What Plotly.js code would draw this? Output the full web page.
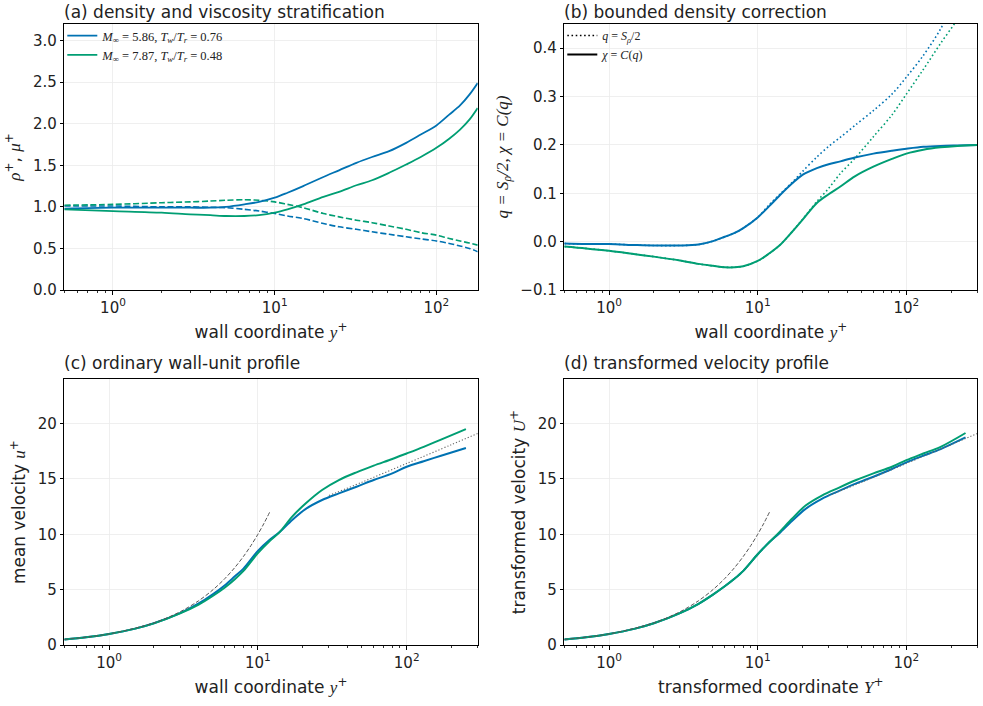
<!DOCTYPE html>
<html>
<head>
<meta charset="utf-8">
<script src="https://cdn.plot.ly/plotly-3.0.1.min.js"></script>
<style>html,body{margin:0;padding:0;background:#fff;}#chart{width:983px;height:706px;}</style>
</head>
<body>
<div id="chart"></div>
<script>
// ---------- data ----------
// (a) density / viscosity stratification
const yA = [0.5, 1, 2, 3, 4, 5, 6.5, 8, 10, 12, 15, 20, 25, 32, 40, 51, 65, 80, 100, 120, 140, 160, 180];
const rhoBlue = [0.98, 0.99, 0.99, 0.99, 0.99, 1.0, 1.03, 1.06, 1.11, 1.17, 1.25, 1.36, 1.44, 1.53, 1.60, 1.67, 1.77, 1.87, 1.98, 2.11, 2.22, 2.35, 2.49];
const rhoGreen = [0.97, 0.95, 0.93, 0.91, 0.90, 0.89, 0.89, 0.90, 0.93, 0.97, 1.03, 1.12, 1.18, 1.26, 1.32, 1.41, 1.51, 1.60, 1.71, 1.82, 1.93, 2.05, 2.19];
const muBlue = [1.01, 1.01, 1.0, 1.0, 0.995, 0.99, 0.97, 0.95, 0.92, 0.89, 0.86, 0.80, 0.76, 0.73, 0.70, 0.67, 0.64, 0.615, 0.59, 0.56, 0.53, 0.50, 0.46];
const muGreen = [1.02, 1.03, 1.05, 1.06, 1.07, 1.08, 1.085, 1.08, 1.06, 1.03, 0.99, 0.92, 0.88, 0.84, 0.81, 0.77, 0.73, 0.69, 0.66, 0.62, 0.59, 0.565, 0.54];

// (b) bounded density correction
const yB = [0.5, 0.7, 1, 1.5, 2, 3, 4, 5, 6, 7, 8, 10, 12, 14, 17, 20, 25, 30, 36, 45, 60, 80, 100, 130, 170, 220, 300];
const chiBlue = [-0.004, -0.005, -0.005, -0.007, -0.008, -0.008, -0.006, 0.001, 0.01, 0.018, 0.028, 0.05, 0.074, 0.095, 0.12, 0.138, 0.152, 0.16, 0.166, 0.174, 0.182, 0.188, 0.192, 0.196, 0.198, 0.199, 0.2];
const qBlue = [-0.004, -0.005, -0.005, -0.007, -0.008, -0.008, -0.006, 0.001, 0.01, 0.018, 0.028, 0.05, 0.077, 0.097, 0.122, 0.145, 0.175, 0.197, 0.216, 0.24, 0.271, 0.305, 0.34, 0.385, 0.44, 0.51, 0.6];
const chiGreen = [-0.010, -0.014, -0.019, -0.026, -0.031, -0.039, -0.046, -0.050, -0.053, -0.053, -0.051, -0.040, -0.024, -0.008, 0.02, 0.045, 0.08, 0.098, 0.114, 0.135, 0.155, 0.171, 0.182, 0.19, 0.195, 0.198, 0.2];
const qGreen = [-0.010, -0.014, -0.019, -0.026, -0.031, -0.039, -0.046, -0.050, -0.053, -0.053, -0.051, -0.040, -0.024, -0.008, 0.02, 0.046, 0.083, 0.11, 0.141, 0.172, 0.217, 0.262, 0.305, 0.356, 0.41, 0.46, 0.54];

// (c) ordinary wall-unit profile, (d) transformed profile
const yC = [0.5, 0.7, 1, 1.5, 2, 3, 4, 5, 6, 7, 8, 10, 12, 14, 17, 21, 27, 35, 46, 60, 80, 100, 130, 170, 250];
const uBlue = [0.5, 0.7, 1.0, 1.48, 1.96, 2.88, 3.75, 4.6, 5.4, 6.2, 6.9, 8.5, 9.5, 10.2, 11.3, 12.3, 13.1, 13.7, 14.3, 14.9, 15.5, 16.1, 16.6, 17.1, 17.8];
const uGreen = [0.5, 0.7, 1.0, 1.48, 1.95, 2.85, 3.65, 4.45, 5.2, 5.95, 6.7, 8.3, 9.4, 10.2, 11.6, 12.8, 14.0, 14.9, 15.6, 16.2, 16.8, 17.3, 17.9, 18.55, 19.5];
const UBlue = [0.5, 0.7, 1.0, 1.48, 1.96, 2.88, 3.72, 4.55, 5.3, 6.0, 6.7, 8.2, 9.3, 10.1, 11.2, 12.3, 13.2, 13.9, 14.6, 15.2, 15.9, 16.5, 17.1, 17.7, 18.75];
const UGreen = [0.5, 0.7, 1.0, 1.48, 1.96, 2.88, 3.72, 4.55, 5.3, 6.0, 6.7, 8.2, 9.3, 10.2, 11.4, 12.6, 13.5, 14.2, 14.9, 15.5, 16.1, 16.7, 17.3, 17.9, 19.15];
// reference laws
const viscX = [0.5, 1, 2, 3, 4, 5, 6, 7, 8, 9, 10, 11, 12];
const viscU = [0.5, 1, 2, 3, 4, 5, 6, 7, 8, 9, 10, 11, 12];
const logX = [30, 50, 100, 200, 300];
const logU = [13.5, 14.7, 16.4, 18.1, 19.1];

const legendA = ['<i>M</i><sub>∞</sub> = 5.86, <i>T<sub>w</sub></i>/<i>T<sub>r</sub></i> = 0.76',
                 '<i>M</i><sub>∞</sub> = 7.87, <i>T<sub>w</sub></i>/<i>T<sub>r</sub></i> = 0.48'];
const legendB = ['<i>q</i> = <i>S<sub>ρ</sub></i>/2', '<i>χ</i> = <i>C</i>(<i>q</i>)'];
const panelTitles = ['(a) density and viscosity stratification', '(b) bounded density correction',
                     '(c) ordinary wall-unit profile', '(d) transformed velocity profile'];
const xTicks = [1, 10, 100];
const xTickText = ['10<sup>0</sup>', '10<sup>1</sup>', '10<sup>2</sup>'];

// ---------- styling ----------
const BLUE = '#0072B2', GREEN = '#009E73';
const SANS = 'DejaVu Sans, sans-serif';
const SERIF = 'Liberation Serif, DejaVu Serif, serif';
const W = 983, H = 706;
const xL = [64.3 / W, 477.7 / W], xR = [564.3 / W, 977.3 / W];
const yT = [1 - 290 / H, 1 - 24 / H], yBt = [1 - 645 / H, 1 - 379.3 / H];
const minorVals = [];
for (let d = 0.1; d < 1000; d *= 10) for (let k = 2; k <= 9; k++) minorVals.push(k * d);

function ln(xa, ya, x, y, color, width, dash, name, show, legend) {
  return {type: 'scatter', mode: 'lines', x: x, y: y, xaxis: xa, yaxis: ya,
    line: {color: color, width: width, dash: dash || 'solid', shape: 'spline', smoothing: 0.9}, name: name || '',
    showlegend: !!show, legend: legend || 'legend', hoverinfo: 'skip'};
}
const traces = [
  ln('x', 'y', yA, muBlue, BLUE, 1.6, '6px,2.6px'),
  ln('x', 'y', yA, muGreen, GREEN, 1.6, '6px,2.6px'),
  ln('x', 'y', yA, rhoBlue, BLUE, 1.8, 'solid', legendA[0], true),
  ln('x', 'y', yA, rhoGreen, GREEN, 1.8, 'solid', legendA[1], true),

  ln('x2', 'y2', yB, qBlue, BLUE, 1.6, '1.6px,2.6px'),
  ln('x2', 'y2', yB, qGreen, GREEN, 1.6, '1.6px,2.6px'),
  ln('x2', 'y2', yB, chiBlue, BLUE, 2, 'solid'),
  ln('x2', 'y2', yB, chiGreen, GREEN, 2, 'solid'),
  ln('x2', 'y2', [null], [null], 'black', 1.4, '1.6px,2.6px', legendB[0], true, 'legend2'),
  ln('x2', 'y2', [null], [null], 'black', 2, 'solid', legendB[1], true, 'legend2'),

  ln('x3', 'y3', yC, uBlue, BLUE, 2),
  ln('x3', 'y3', yC, uGreen, GREEN, 2),
  ln('x3', 'y3', viscX, viscU, '#555', 1, '4px,2px'),
  ln('x3', 'y3', logX, logU, '#666', 1.1, '1.2px,2px'),

  ln('x4', 'y4', yC, UBlue, BLUE, 2),
  ln('x4', 'y4', yC, UGreen, GREEN, 2),
  ln('x4', 'y4', viscX, viscU, '#555', 1, '4px,2px'),
  ln('x4', 'y4', logX, logU, '#666', 1.1, '1.2px,2px')
];

const TICK = 15, AXT = 17, TTL = 17;
const axBase = {showline: true, mirror: true, linecolor: 'black', linewidth: 1,
  ticks: 'outside', ticklen: 3.5, tickwidth: 1, tickcolor: 'black',
  showgrid: true, gridcolor: '#ebebeb', gridwidth: 0.8, zeroline: false,
  tickfont: {family: SANS, size: TICK, color: '#222'}};
function xax(dom, anchor, range, title) {
  return Object.assign({}, axBase, {domain: dom, anchor: anchor, type: 'log', range: range,
    tickmode: 'array', tickvals: xTicks, ticktext: xTickText,
    minor: {tickvals: minorVals, ticks: 'outside', ticklen: 2, tickwidth: 0.8, tickcolor: 'black', showgrid: false},
    title: {text: title, font: {family: SANS, size: AXT, color: '#222'}, standoff: 10}});
}
function yax(dom, anchor, range, dtick, fmt, title) {
  return Object.assign({}, axBase, {domain: dom, anchor: anchor, range: range, dtick: dtick, tick0: 0,
    tickformat: fmt, title: {text: title, font: {family: SANS, size: AXT, color: '#222'}, standoff: 7}});
}
const it = (s) => '<span style="font-family:Liberation Serif;font-style:italic">' + s + '</span>';
const wallX = 'wall coordinate ' + it('y') + '<sup>+</sup>';

function ttl(text, xd, yd, shift) {
  return {text: text, x: xd[0], y: yd[1], xref: 'paper', yref: 'paper', xanchor: 'left', yanchor: 'bottom',
    xshift: -1, yshift: shift, borderpad: 0, showarrow: false, font: {family: SANS, size: TTL, color: '#222'}};
}

const layout = {
  width: W, height: H, margin: {l: 0, r: 0, t: 0, b: 0},
  paper_bgcolor: 'white', plot_bgcolor: 'white',
  font: {family: SANS, size: TICK, color: '#222'},
  xaxis: xax(xL, 'y', [Math.log10(0.5), Math.log10(180)], wallX),
  yaxis: yax(yT, 'x', [0, 3.2], 0.5, '.1f',
    '<span style="font-family:Liberation Serif;font-style:italic">ρ</span><sup>+</sup>, <span style="font-family:Liberation Serif;font-style:italic">μ</span><sup>+</sup>'),
  xaxis2: xax(xR, 'y2', [Math.log10(0.5), Math.log10(300)], wallX),
  yaxis2: yax(yT, 'x2', [-0.1, 0.45], 0.1, '.1f',
    '<span style="font-family:Liberation Serif;font-style:italic">q = S<sub>ρ</sub>/2, χ = C(q)</span>'),
  xaxis3: xax(xL, 'y3', [Math.log10(0.5), Math.log10(300)], wallX),
  yaxis3: yax(yBt, 'x3', [0, 24], 5, 'd', 'mean velocity ' + it('u') + '<sup>+</sup>'),
  xaxis4: xax(xR, 'y4', [Math.log10(0.5), Math.log10(300)],
    'transformed coordinate ' + it('Y') + '<sup>+</sup>'),
  yaxis4: yax(yBt, 'x4', [0, 24], 5, 'd', 'transformed velocity ' + it('U') + '<sup>+</sup>'),
  legend: {x: xL[0] - 2 / W, y: yT[1] + 3 / H, xanchor: 'left', yanchor: 'top',
    bgcolor: 'rgba(255,255,255,0)', borderwidth: 0, itemwidth: 30, tracegroupgap: 0,
    font: {family: SERIF, size: 12.5, color: '#222'}},
  legend2: {x: xR[0] - 2 / W, y: yT[1] + 3 / H, xanchor: 'left', yanchor: 'top',
    bgcolor: 'rgba(255,255,255,0)', borderwidth: 0, itemwidth: 30, tracegroupgap: 0,
    font: {family: SERIF, size: 12, color: '#222'}},
  annotations: [
    ttl(panelTitles[0], xL, yT, 1),
    ttl(panelTitles[1], xR, yT, 1),
    ttl(panelTitles[2], xL, yBt, 5),
    ttl(panelTitles[3], xR, yBt, 5)
  ]
};
Plotly.newPlot('chart', traces, layout, {staticPlot: true});
</script>
</body>
</html>
